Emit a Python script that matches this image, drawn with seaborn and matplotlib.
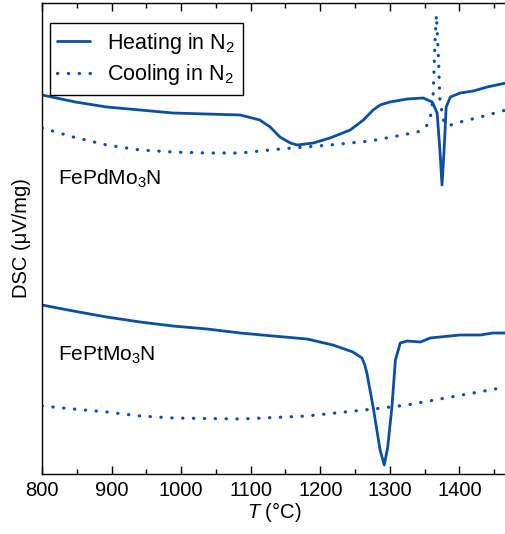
import matplotlib
matplotlib.use("Agg")
import matplotlib.pyplot as plt
import seaborn as sns

# FePdMo3N heating
pd_heat_T = [800, 848, 893, 941, 988, 1037, 1085, 1113, 1128, 1142, 1157, 1167, 1190,
             1214, 1243, 1262, 1276, 1286, 1300, 1325, 1348, 1361, 1368, 1372, 1375,
             1378, 1381, 1387, 1401, 1420, 1440, 1467]
pd_heat_v = [3.79, 3.72, 3.67, 3.64, 3.61, 3.60, 3.59, 3.54, 3.47, 3.37, 3.31, 3.29, 3.31,
             3.36, 3.44, 3.54, 3.64, 3.69, 3.72, 3.75, 3.76, 3.72, 3.61, 3.24, 2.89,
             3.24, 3.67, 3.77, 3.81, 3.83, 3.87, 3.91]
# FePdMo3N cooling
pd_cool_T = [800, 845, 893, 941, 988, 1037, 1085, 1142, 1214, 1272, 1310, 1340, 1352,
             1358, 1362, 1365, 1367, 1370, 1372, 1377, 1383, 1401, 1430, 1467]
pd_cool_v = [3.46, 3.37, 3.29, 3.24, 3.22, 3.21, 3.21, 3.25, 3.29, 3.33, 3.38, 3.42, 3.47,
             3.56, 3.74, 4.34, 4.59, 4.14, 3.74, 3.54, 3.48, 3.52, 3.57, 3.64]
# FePtMo3N heating
pt_heat_T = [800, 845, 893, 941, 988, 1037, 1085, 1132, 1181, 1218, 1247, 1260, 1264,
             1267, 1276, 1286, 1292, 1297, 1303, 1308, 1315, 1325, 1344, 1358, 1372,
             1401, 1430, 1448, 1467]
pt_heat_v = [1.69, 1.63, 1.57, 1.52, 1.48, 1.45, 1.41, 1.38, 1.35, 1.29, 1.22, 1.16, 1.09,
             1.01, 0.67, 0.24, 0.09, 0.27, 0.67, 1.14, 1.31, 1.33, 1.32, 1.36, 1.37,
             1.39, 1.39, 1.41, 1.41]
# FePtMo3N cooling
pt_cool_T = [800, 845, 893, 941, 988, 1085, 1181, 1276, 1325, 1372, 1420, 1467]
pt_cool_v = [0.68, 0.65, 0.62, 0.58, 0.56, 0.55, 0.58, 0.65, 0.69, 0.75, 0.81, 0.87]

blue = "#0b4ea2"

sns.set_style("ticks")
plt.rcParams["font.family"] = ["Liberation Sans", "DejaVu Sans"]
plt.rcParams["mathtext.fontset"] = "custom"
plt.rcParams["mathtext.rm"] = "Liberation Sans"
plt.rcParams["mathtext.it"] = "Liberation Sans:italic"
plt.rcParams["text.color"] = "black"
plt.rcParams["axes.labelcolor"] = "black"
plt.rcParams["xtick.color"] = "black"

fig = plt.figure(figsize=(5.06, 5.34), dpi=100)
ax = fig.add_axes([42 / 506, 1 - 474 / 534, 1 - 42 / 506, 471 / 534])

dotted = (0, (0.1, 3.3))
sns.lineplot(x=pd_heat_T, y=pd_heat_v, sort=False, estimator=None, color=blue, lw=2.0,
             label="Heating in N$_2$", ax=ax)
sns.lineplot(x=pd_cool_T, y=pd_cool_v, sort=False, estimator=None, color=blue, lw=2.3,
             linestyle=dotted, dash_capstyle="round", label="Cooling in N$_2$", ax=ax)
sns.lineplot(x=pt_heat_T, y=pt_heat_v, sort=False, estimator=None, color=blue, lw=2.0, ax=ax)
sns.lineplot(x=pt_cool_T, y=pt_cool_v, sort=False, estimator=None, color=blue, lw=2.3,
             linestyle=dotted, dash_capstyle="round", ax=ax)
for ln in ax.get_lines():
    ln.set_solid_joinstyle("round")

ax.set_xlim(800, 1467)
ax.set_ylim(0, 4.71)
ax.set_xticks(range(800, 1401, 100))
ax.set_xticks(range(850, 1451, 100), minor=True)
ax.set_yticks([])
ax.tick_params(axis="x", which="major", direction="in", length=6, width=1, top=True,
               labelsize=14.5, pad=5)
ax.tick_params(axis="x", which="minor", direction="in", length=3.5, width=1, top=True)
ax.spines["right"].set_visible(False)
for s in ["left", "bottom", "top"]:
    ax.spines[s].set_linewidth(1.0)
    ax.spines[s].set_color("black")

ax.set_xlabel("$T$ (°C)", fontsize=14.5, labelpad=0)
ax.set_ylabel("DSC (μV/mg)", fontsize=14.5, labelpad=8)

ax.text(823, 2.89, "FePdMo$_3$N", fontsize=15, va="baseline")
ax.text(823, 1.13, "FePtMo$_3$N", fontsize=15, va="baseline")

leg = ax.legend(loc="upper left", bbox_to_anchor=(0.017, 0.957), borderaxespad=0,
                fontsize=15.5, handlelength=1.5, borderpad=0.35, labelspacing=0.3,
                handletextpad=0.8, fancybox=False, framealpha=1)
leg.get_frame().set_edgecolor("black")
leg.get_frame().set_linewidth(1.0)

fig.savefig("out.png", dpi=100)
